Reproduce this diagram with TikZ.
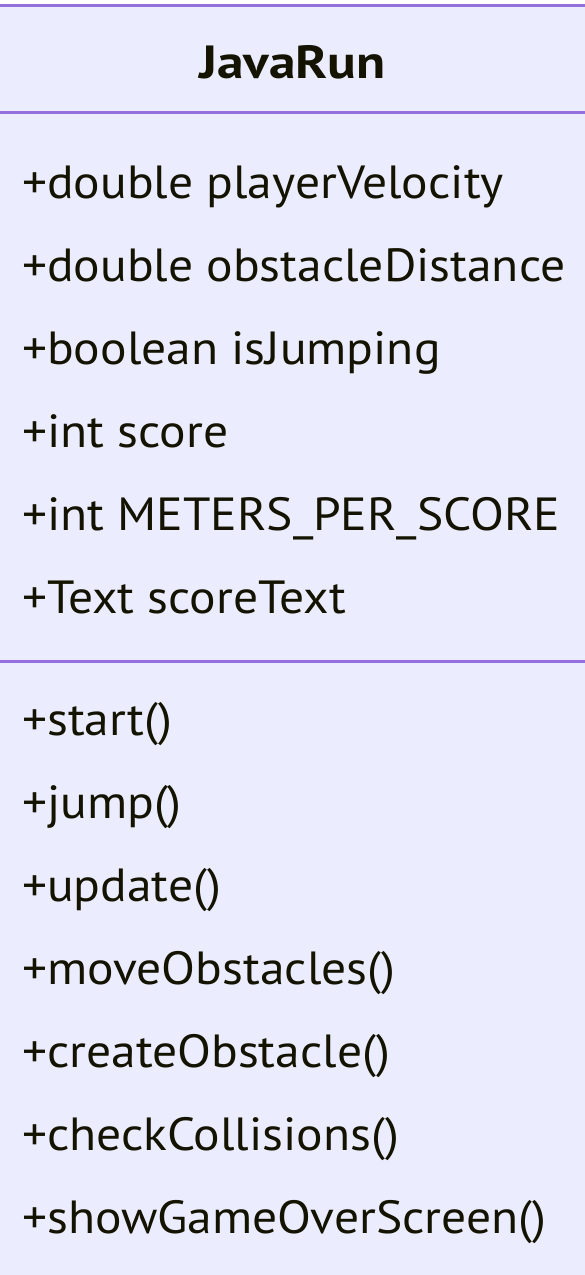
\documentclass[tikz,border=0pt]{standalone}
\usepackage{fontspec}
\setmainfont{PT Sans}[FakeStretch=1.065,BoldFeatures={FakeStretch=1.15}]
\definecolor{classfill}{HTML}{ECECFF}
\definecolor{classline}{HTML}{9370DB}
\definecolor{classtext}{HTML}{131300}
\begin{document}
\begin{tikzpicture}[x=1pt,y=1pt,
  member/.style={anchor=base west,inner sep=0pt,text=classtext,font=\fontsize{46.5}{46.5}\selectfont},
  title/.style={anchor=base,inner sep=0pt,text=classtext,font=\fontsize{46.5}{46.5}\selectfont\bfseries},
  divider/.style={classline,line width=3pt}]
\useasboundingbox (0,0) rectangle (585,-1275);
\clip (0,0) rectangle (585,-1275);
% class box
\draw[fill=classfill,draw=classline,line width=3pt] (-2,-5.5) rectangle (587,-1290);
\draw[divider] (-3,-112.5) -- (588,-112.5);
\draw[divider] (-3,-661) -- (588,-661);
% class name
\node[title] (name) at (292.5,-78) {JavaRun};
% attributes
\node[member] (a1) at (22,-198) {+double playerVelocity};
\node[member] (a2) at (22,-281) {+double obstacleDistance};
\node[member] (a3) at (22,-364) {+boolean isJumping};
\node[member] (a4) at (22,-447) {+int score};
\node[member] (a5) at (22,-530) {+int METERS\_PER\_SCORE};
\node[member] (a6) at (22,-613) {+Text scoreText};
% methods
\node[member] (m1) at (22,-735) {+start()};
\node[member] (m2) at (22,-818) {+jump()};
\node[member] (m3) at (22,-901) {+update()};
\node[member] (m4) at (22,-984) {+moveObstacles()};
\node[member] (m5) at (22,-1067) {+createObstacle()};
\node[member] (m6) at (22,-1150) {+checkCollisions()};
\node[member] (m7) at (22,-1233) {+showGameOverScreen()};
\end{tikzpicture}
\end{document}
